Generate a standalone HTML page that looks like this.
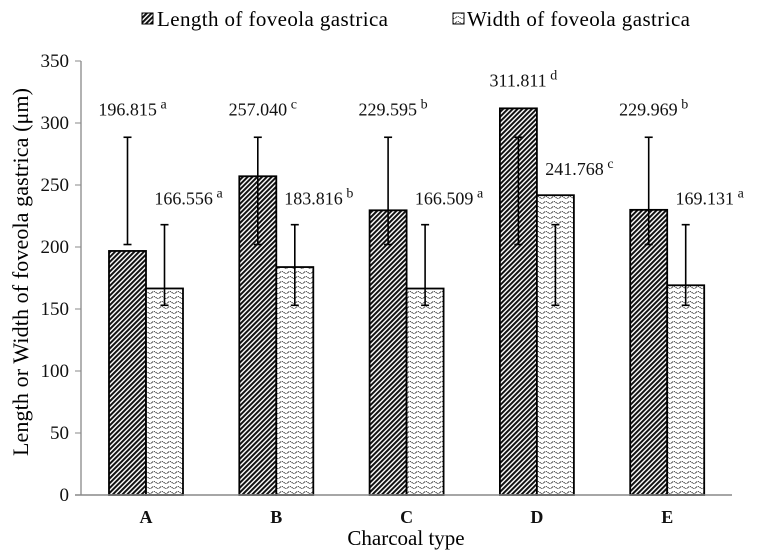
<!DOCTYPE html>
<html><head><meta charset="utf-8"><style>
html,body{margin:0;padding:0;background:#fff;}
svg{display:block;font-family:"Liberation Serif",serif;}
</style></head><body>
<svg id="chart" width="759" height="555" viewBox="0 0 759 555">
<defs>
<pattern id="hatch" patternUnits="userSpaceOnUse" width="3.4" height="3.4" patternTransform="rotate(45)">
<rect width="3.4" height="3.4" fill="#fff"/><rect width="2" height="3.4" fill="#111"/>
</pattern>
<pattern id="wave" patternUnits="userSpaceOnUse" width="8" height="5">
<rect width="8" height="5" fill="#fff"/>
<path d="M0 2.5 Q2 0.5 4 2.5 T8 2.5" fill="none" stroke="#333" stroke-width="1" stroke-dasharray="1.2 0.8"/>
</pattern>
</defs>
<g id="legend">
<g>
<rect x="142" y="13" width="11" height="11" fill="url(#hatch)" stroke="#000" stroke-width="1"/>
<text x="157" y="26" font-size="21" textLength="231">Length of foveola gastrica</text>
</g>
<g>
<rect x="453" y="13" width="11" height="11" fill="url(#wave)" stroke="#000" stroke-width="1"/>
<text x="467" y="26" font-size="21" textLength="223">Width of foveola gastrica</text>
</g>
</g>
<text transform="translate(28,272) rotate(-90)" text-anchor="middle" font-size="22" textLength="368">Length or Width of foveola gastrica (μm)</text>
<text x="406" y="545" text-anchor="middle" font-size="21">Charcoal type</text>
<g id="yaxis"></g>
<g id="bars"></g>
<g id="xaxis"></g>
</svg>
<script>
const categories = ["A","B","C","D","E"];
const lengthValues = [196.815, 257.040, 229.595, 311.811, 229.969];
const widthValues = [166.556, 183.816, 166.509, 241.768, 169.131];
const lengthLetters = ["a","c","b","d","b"];
const widthLetters = ["a","b","a","c","a"];
const lengthErrLow = [202, 202, 202, 202, 202];
const lengthErrHigh = [288.5, 288.5, 288.5, 288.5, 288.5];
const widthErrLow = [153, 153, 153, 153, 153];
const widthErrHigh = [218, 218, 218, 218, 218];
const yTicks = [0,50,100,150,200,250,300,350];

const NS = "http://www.w3.org/2000/svg";
const X0 = 81, X1 = 732, Y0 = 495, K = 1.24;
function y(v){ return Y0 - v*K; }
function xc(i){ return 146 + i*130.3; }
const BW = 37;
function mk(tag, attrs, parent){
  const e = document.createElementNS(NS, tag);
  for (const k in attrs) e.setAttribute(k, attrs[k]);
  parent.appendChild(e); return e;
}
const yg = document.getElementById('yaxis');
const bg = document.getElementById('bars');
const xg = document.getElementById('xaxis');

yTicks.forEach(t => {
  const tk = mk('line', {x1:X0-6, x2:X0, y1:y(t), y2:y(t), stroke:'#888', 'stroke-width':1}, yg);
  
  
  const tl = mk('text', {x:X0-12, y:y(t)+6, 'text-anchor':'end', 'font-size':19, fill:'#111'}, yg);
  tl.textContent = t;
  
  
});
const ya = mk('line', {x1:X0, x2:X0, y1:y(350), y2:Y0, stroke:'#888', 'stroke-width':1.3}, yg);



function errbar(cx, lo, hi){
  const g = mk('g', {stroke:'#000', 'stroke-width':1.6}, bg);
  
  
  mk('line', {x1:cx, x2:cx, y1:y(lo), y2:y(hi)}, g);
  mk('line', {x1:cx-4, x2:cx+4, y1:y(lo), y2:y(lo)}, g);
  mk('line', {x1:cx-4, x2:cx+4, y1:y(hi), y2:y(hi)}, g);
}
function label(cx, top, val, letter, name){
  const t = mk('text', {x:cx, y:top, 'text-anchor':'middle', 'font-size':18, fill:'#111'}, bg);
  
  
  t.textContent = val.toFixed(3) + '\u2009';
  const s = mk('tspan', {'font-size':14, dy:-7}, t);
  s.textContent = letter;
}

categories.forEach((c, i) => {
  const c0 = xc(i);
  const lx = c0 - BW, wx = c0;
  const r1 = mk('rect', {x:lx, y:y(lengthValues[i]), width:BW, height:Y0-y(lengthValues[i]), fill:'url(#hatch)', stroke:'#000', 'stroke-width':1.8}, bg);
  
  
  const r2 = mk('rect', {x:wx, y:y(widthValues[i]), width:BW, height:Y0-y(widthValues[i]), fill:'url(#wave)', stroke:'#000', 'stroke-width':1.8}, bg);
  
  
  errbar(lx+BW/2, lengthErrLow[i], lengthErrHigh[i]);
  errbar(wx+BW/2, widthErrLow[i], widthErrHigh[i]);
  const lt = Math.min(y(lengthValues[i]), y(lengthErrHigh[i]));
  label(lx+BW/2+5, lt-22, lengthValues[i], lengthLetters[i], 'value-label-length');
  const wt = Math.min(y(widthValues[i]), y(widthErrHigh[i]));
  label(wx+BW/2+24, wt-20, widthValues[i], widthLetters[i], 'value-label-width');
  const xl = mk('text', {x:c0, y:523, 'text-anchor':'middle', 'font-size':18, 'font-weight':'bold', fill:'#111'}, xg);
  xl.textContent = c;
  
  
});
const xa = mk('line', {x1:X0-6, x2:X1, y1:Y0, y2:Y0, stroke:'#888', 'stroke-width':1.5}, xg);


</script>
</body></html>
